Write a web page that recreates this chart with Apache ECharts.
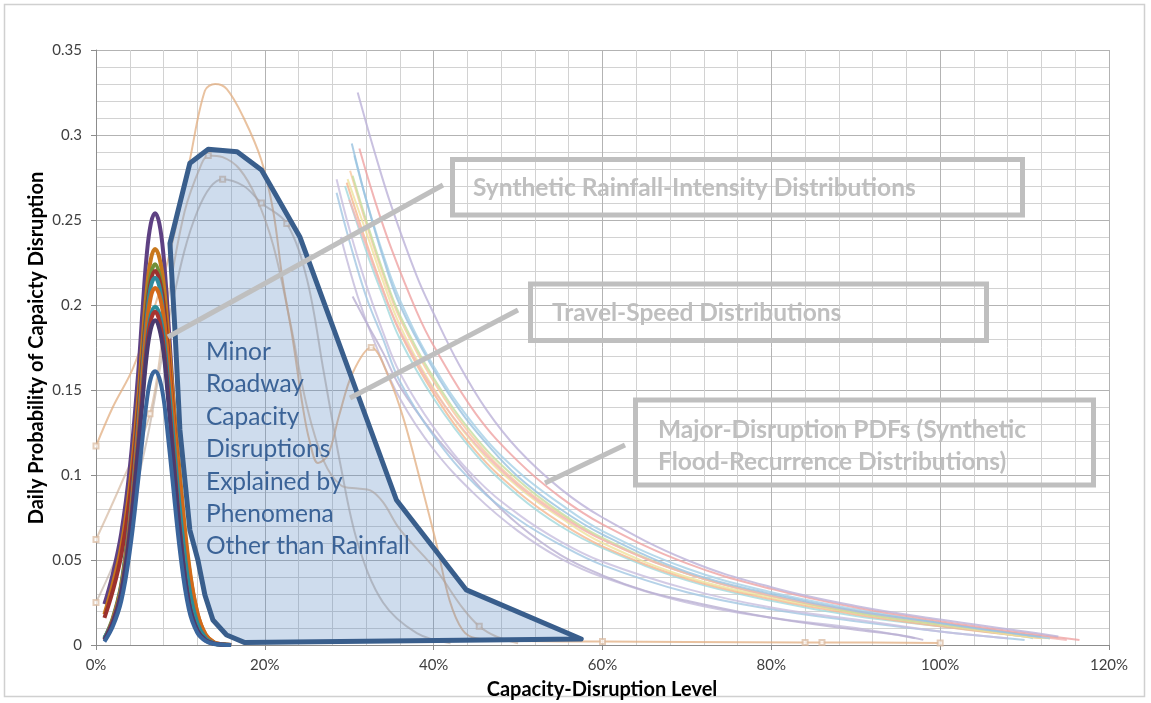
<!DOCTYPE html>
<html>
<head>
<meta charset="utf-8">
<title>Capacity-Disruption Level PDFs</title>
<script src="https://cdn.jsdelivr.net/npm/echarts@6/dist/echarts.min.js"></script>
<style>
  html, body { margin: 0; padding: 0; background: #ffffff; }
  #chart { width: 1151px; height: 703px; }
</style>
</head>
<body>
<div id="chart"></div>
<script>
// ---- Axis setup -------------------------------------------------------------
const xTicks = [0, 20, 40, 60, 80, 100, 120];          // capacity-disruption level, %
const yTicks = [0, 0.05, 0.1, 0.15, 0.2, 0.25, 0.3, 0.35];

// ---- Synthetic rainfall-intensity distributions -------------------------------
const rainX = [1, 2, 3, 4, 5, 5.5, 6, 6.5, 7, 7.5, 8, 8.5, 9, 10, 11, 12, 13, 14, 15, 16];
const rainPurple  = [0.024, 0.042, 0.066, 0.104, 0.160, 0.196, 0.229, 0.248, 0.254, 0.248, 0.229, 0.196, 0.157, 0.084, 0.033, 0.011, 0.0036, 0.001, 0.0003, 0];
const rainOrange  = [0.018, 0.036, 0.058, 0.093, 0.145, 0.178, 0.208, 0.227, 0.233, 0.228, 0.213, 0.186, 0.154, 0.097, 0.048, 0.019, 0.006, 0.0015, 0.0004, 0];
const rainGreen   = [0.004, 0.016, 0.036, 0.076, 0.134, 0.168, 0.199, 0.218, 0.224, 0.218, 0.202, 0.172, 0.139, 0.074, 0.029, 0.010, 0.003, 0.0009, 0.0002, 0];
const rainRed     = [0.016, 0.032, 0.053, 0.086, 0.136, 0.167, 0.196, 0.214, 0.220, 0.215, 0.201, 0.175, 0.145, 0.088, 0.042, 0.016, 0.005, 0.0013, 0.0003, 0];
const rainTeal    = [0.004, 0.015, 0.035, 0.073, 0.130, 0.162, 0.192, 0.211, 0.216, 0.211, 0.194, 0.166, 0.134, 0.071, 0.028, 0.0097, 0.003, 0.0009, 0.0002, 0];
const rainOrange2 = [0.003, 0.015, 0.034, 0.071, 0.126, 0.158, 0.187, 0.205, 0.210, 0.206, 0.193, 0.170, 0.142, 0.090, 0.046, 0.019, 0.006, 0.0015, 0.0004, 0];
const rainTeal2   = [0.004, 0.014, 0.032, 0.068, 0.119, 0.149, 0.177, 0.194, 0.199, 0.195, 0.182, 0.158, 0.131, 0.077, 0.035, 0.013, 0.004, 0.001, 0.0003, 0];
const rainRed2    = [0.003, 0.014, 0.031, 0.067, 0.118, 0.147, 0.174, 0.191, 0.196, 0.191, 0.176, 0.151, 0.122, 0.065, 0.025, 0.0088, 0.0027, 0.0008, 0.0002, 0];
const rainNavy    = [0.003, 0.013, 0.031, 0.065, 0.115, 0.143, 0.170, 0.186, 0.191, 0.186, 0.172, 0.147, 0.118, 0.063, 0.025, 0.0086, 0.0027, 0.0008, 0.0002, 0];
const rainBlue    = [0.002, 0.011, 0.026, 0.055, 0.097, 0.121, 0.143, 0.157, 0.161, 0.157, 0.145, 0.124, 0.100, 0.053, 0.021, 0.0072, 0.0023, 0.0006, 0.0002, 0];

// ---- Travel-speed distributions ([level %, probability]) ---------------------
const speedTan = [[0,0.117],[2,0.14],[4.4,0.163],[7.2,0.203],[9.1,0.238],[11.1,0.285],[12.9,0.326],[14.1,0.33],[15.5,0.327],
  [17.5,0.31],[19.6,0.285],[21,0.255],[22.1,0.215],[23.3,0.18],[24.5,0.14],[25.3,0.12],[26.3,0.107],[27.5,0.112],
  [28.8,0.135],[30.4,0.16],[32.6,0.175],[34.8,0.156],[36.5,0.132],[38.5,0.095],[40.4,0.058],[41.9,0.026],[43.4,0.009],
  [45,0.004],[50,0.0025],[60,0.002],[70,0.0018],[84,0.0015],[86,0.0015],[100,0.0012]];
const speedTaupe = [[0,0.062],[3,0.095],[6.4,0.136],[8.4,0.2],[10.5,0.255],[12.5,0.283],[13.3,0.288],[15,0.287],[17,0.28],
  [19,0.263],[21,0.235],[23,0.19],[25,0.14],[27,0.108],[29,0.094],[31,0.092],[32.5,0.091],[34,0.084],[36,0.068],
  [40.3,0.044],[43.4,0.022],[45.4,0.011],[47.4,0.005],[50,0.001]];
const speedGray = [[0,0.025],[3,0.06],[6,0.12],[9,0.2],[12,0.255],[15,0.274],[17.5,0.27],[19.6,0.26],[22.6,0.248],
  [25,0.215],[27,0.16],[29,0.105],[31,0.06],[34,0.025],[38,0.007],[42,0.001]];
const speedMarkers = [[0,0.117],[0,0.062],[0,0.025],[6.4,0.136],[13.3,0.288],[15,0.274],[19.6,0.26],[22.6,0.248],
  [32.6,0.175],[45.4,0.011],[60,0.002],[84,0.0015],[86,0.0015],[100,0.0012]];

// ---- Major-disruption PDFs (synthetic flood-recurrence distributions) --------
const floodLavTop = [[31,0.325],[33,0.29],[35,0.258],[38,0.217],[40,0.195],[43,0.165],[46.3,0.138],[50,0.115],[55,0.092],[60,0.075],[70,0.05],[80,0.034],[90,0.023],[100,0.015],[110,0.008],[114,0.005]];
const floodPink1  = [[31.2,0.292],[33,0.262],[35,0.233],[38,0.196],[40,0.176],[45,0.136],[50,0.108],[55,0.087],[60,0.071],[70,0.048],[80,0.033],[90,0.022],[100,0.014],[110,0.007],[116.5,0.003]];
const floodBlueX  = [[30.3,0.295],[32,0.262],[34,0.228],[36,0.2],[40,0.162],[43.1,0.138],[46,0.12],[50,0.099],[55,0.08],[60,0.065],[70,0.043],[80,0.03],[90,0.02],[100,0.013],[110,0.006],[112,0.005]];
const floodBlue2  = [[30.6,0.288],[32,0.262],[34,0.23],[36,0.203],[40,0.164],[45,0.128],[50,0.102],[55,0.083],[60,0.067],[70,0.045],[80,0.031],[90,0.021],[100,0.013],[110,0.006],[113,0.004]];
const floodPeach1 = [[30.1,0.279],[32,0.248],[34,0.218],[36,0.192],[40,0.155],[45,0.12],[50,0.095],[55,0.077],[60,0.062],[70,0.042],[80,0.029],[90,0.019],[100,0.012],[110,0.006],[114,0.004]];
const floodGreen1 = [[30.4,0.276],[32,0.25],[34,0.22],[36,0.194],[40,0.157],[45,0.122],[50,0.097],[55,0.078],[60,0.063],[70,0.042],[80,0.029],[90,0.019],[100,0.012],[110,0.006],[113,0.004]];
const floodPeach2 = [[29.7,0.272],[32,0.237],[34,0.209],[36,0.184],[40,0.148],[45,0.114],[50,0.09],[55,0.072],[60,0.058],[70,0.039],[80,0.027],[90,0.018],[100,0.011],[110,0.005],[112,0.004]];
const floodYellow = [[29.8,0.274],[32,0.243],[34,0.214],[36,0.188],[40,0.151],[45,0.117],[50,0.093],[55,0.075],[60,0.06],[70,0.04],[80,0.028],[90,0.019],[100,0.012],[110,0.005],[113,0.004]];
const floodAqua   = [[29.5,0.27],[32,0.232],[34,0.205],[36,0.18],[40,0.145],[45,0.112],[50,0.088],[55,0.07],[60,0.057],[70,0.038],[80,0.026],[90,0.017],[100,0.011],[110,0.005],[111,0.004]];
const floodLav2   = [[28.5,0.274],[30,0.245],[32,0.212],[34,0.184],[36,0.16],[40,0.128],[45,0.098],[50,0.077],[55,0.061],[60,0.049],[70,0.033],[80,0.022],[90,0.015],[100,0.008],[108,0.004]];
const floodBlue3  = [[28.5,0.266],[30,0.238],[32,0.205],[34,0.18],[36,0.155],[40,0.123],[45,0.094],[50,0.074],[55,0.059],[60,0.047],[70,0.031],[80,0.021],[90,0.014],[100,0.008],[110,0.003]];
const floodLavLow1 = [[30.4,0.205],[32,0.19],[34,0.172],[36,0.152],[40,0.124],[43,0.107],[46,0.09],[50,0.071],[55,0.053],[60,0.041],[65,0.032],[70,0.026],[80,0.016],[90,0.009],[95,0.006],[98,0.003]];
const floodLavLow2 = [[29,0.24],[31,0.205],[33,0.178],[36,0.145],[40,0.115],[45,0.088],[50,0.067],[55,0.051],[60,0.04],[70,0.025],[80,0.016],[90,0.01],[97,0.004]];
const floodPink2  = [[30,0.262],[32,0.235],[34,0.208],[36,0.185],[40,0.15],[45,0.118],[50,0.094],[55,0.076],[60,0.062],[70,0.042],[80,0.029],[90,0.02],[100,0.013],[110,0.006],[115,0.003]];

// ---- Envelope of minor roadway capacity disruptions (polygon vertices) -------
const minorX = [8.76, 11.12, 13.29, 16.72, 19.61, 24.14, 35.59, 43.87, 57.48, 17.63, 15.47, 13.85, 12.9, 12.07, 11.12, 9.94, 9.35];
const minorY = [0.2363, 0.2834, 0.2916, 0.2902, 0.2794, 0.2402, 0.0853, 0.0324, 0.0035, 0.0014, 0.0059, 0.0147, 0.0294, 0.05, 0.0676, 0.1265, 0.1853];

const minorLabel = ['Minor', 'Roadway', 'Capacity', 'Disruptions', 'Explained by', 'Phenomena', 'Other than Rainfall'];

// ---- Build series --------------------------------------------------------------
const zip = (xs, ys) => xs.map((x, i) => [x, ys[i]]);

const floodSeries = [
  [floodLavLow2, '#c3badb'], [floodLavLow1, '#b9afd2'], [floodBlue3, '#a2c7e2'], [floodLav2, '#c8bedf'],
  [floodAqua, '#a3d8dc'], [floodPeach2, '#f6b68e'], [floodYellow, '#eee29c'], [floodPeach1, '#f8c7a0'],
  [floodGreen1, '#c5df9e'], [floodPink2, '#f2b5b5'], [floodBlue2, '#a6cfe6'], [floodBlueX, '#98c2e0'],
  [floodPink1, '#efa3a3'], [floodLavTop, '#bcb1d8']
].map(([pts, color]) => ({
  type: 'line', data: pts, smooth: 0.4, symbol: 'none', silent: true,
  lineStyle: { color, width: 2, opacity: 0.8 }, z: 2
}));

const speedSeries = [
  [speedGray, '#b9a99d', 0.6], [speedTaupe, '#cdab90', 0.6], [speedTan, '#e2ad80', 0.75]
].map(([pts, color, op]) => ({
  type: 'line', data: pts, smooth: 0.35, symbol: 'none', silent: true,
  lineStyle: { color, width: 2, opacity: op }, z: 3
}));

const rainSeries = [
  [rainPurple, '#5e4183'], [rainOrange, '#c8781c'], [rainGreen, '#70903a'], [rainRed, '#9c312d'],
  [rainTeal, '#2f8a9c'], [rainOrange2, '#d2691a'], [rainTeal2, '#2b8c9a'], [rainRed2, '#a83430'],
  [rainNavy, '#4a3a6e'], [rainBlue, '#3a659c']
].map(([ys, color]) => ({
  type: 'line', data: zip(rainX, ys), smooth: 0.4, symbol: 'none', silent: true,
  lineStyle: { color, width: 4 }, z: 4
}));

const chart = echarts.init(document.getElementById('chart'), null, { renderer: 'canvas' });

const option = {
  animation: false,
  backgroundColor: '#ffffff',
  grid: { left: 96, right: 42, top: 50, bottom: 58, containLabel: false },
  xAxis: {
    type: 'value', min: xTicks[0], max: xTicks[xTicks.length - 1], interval: 20,
    axisLine: { show: true, lineStyle: { color: '#8c8c8c', width: 1 } },
    axisTick: { show: true, length: 5, lineStyle: { color: '#8c8c8c' } },
    axisLabel: { formatter: '{value}%', color: '#404040', fontSize: 15, margin: 13, fontFamily: 'Lato, sans-serif' },
    splitLine: { show: true, lineStyle: { color: '#b3b3b3', width: 1 } },
    minorTick: { show: false, splitNumber: 5 },
    minorSplitLine: { show: true, lineStyle: { color: '#d2d2d2', width: 1 } }
  },
  yAxis: {
    type: 'value', min: yTicks[0], max: yTicks[yTicks.length - 1], interval: 0.05,
    axisLine: { show: true, lineStyle: { color: '#8c8c8c', width: 1 } },
    axisTick: { show: true, length: 5, lineStyle: { color: '#8c8c8c' } },
    axisLabel: {
      color: '#404040', fontSize: 15, margin: 14, fontFamily: 'Lato, sans-serif',
      formatter: v => String(+v.toFixed(2))
    },
    splitLine: { show: true, lineStyle: { color: '#b3b3b3', width: 1 } },
    minorTick: { show: false, splitNumber: 5 },
    minorSplitLine: { show: true, lineStyle: { color: '#d2d2d2', width: 1 } }
  },
  series: [
    ...floodSeries,
    ...speedSeries,
    {
      type: 'scatter', data: speedMarkers, symbol: 'emptyRect', symbolSize: 5, silent: true,
      itemStyle: { color: '#d9b89c', borderColor: '#d2ae90', borderWidth: 1, opacity: 0.7 }, z: 3
    },
    ...rainSeries,
    {
      type: 'custom', coordinateSystem: 'cartesian2d', silent: true, z: 5,
      data: [[minorX[0], minorY[0]]],
      renderItem: (params, api) => ({
        type: 'polygon',
        shape: { points: minorX.map((x, i) => api.coord([x, minorY[i]])) },
        style: { fill: 'rgba(79,129,189,0.28)', stroke: '#395e8c', lineWidth: 5, lineJoin: 'round' }
      })
    }
  ],
  graphic: [
    // outer chart frame
    { type: 'rect', shape: { x: 4.5, y: 4.5, width: 1140, height: 692 }, style: { fill: 'none', stroke: '#d0d0d0', lineWidth: 1.5 }, z: 0, silent: true },
    // axis titles
    { type: 'text', x: 602, y: 690, style: { text: 'Capacity-Disruption Level', font: 'bold 20px Lato, sans-serif', fill: '#000', align: 'center', verticalAlign: 'middle' }, z: 10 },
    { type: 'text', x: 37, y: 348, rotation: Math.PI / 2, style: { text: 'Daily Probability of Capaicty Disruption', font: 'bold 20px Lato, sans-serif', fill: '#000', align: 'center', verticalAlign: 'middle' }, z: 10 },
    // envelope label
    ...minorLabel.map((t, i) => ({
      type: 'text', x: 206, y: 352 + i * 32.4,
      style: { text: t, font: '24.5px Lato, sans-serif', fill: '#3b6397', align: 'left', verticalAlign: 'middle' }, z: 10
    })),
    // callout leaders
    { type: 'line', shape: { x1: 443, y1: 185, x2: 168, y2: 337 }, style: { stroke: '#bfbfbf', lineWidth: 5 }, z: 9 },
    { type: 'line', shape: { x1: 518, y1: 310, x2: 350, y2: 398 }, style: { stroke: '#bfbfbf', lineWidth: 5 }, z: 9 },
    { type: 'line', shape: { x1: 625, y1: 445, x2: 545, y2: 483 }, style: { stroke: '#bfbfbf', lineWidth: 5 }, z: 9 },
    // callout boxes
    { type: 'rect', shape: { x: 452.5, y: 159.5, width: 570, height: 55.5 }, style: { fill: 'none', stroke: '#bfbfbf', lineWidth: 5 }, z: 9 },
    { type: 'rect', shape: { x: 530.5, y: 284, width: 456, height: 56.5 }, style: { fill: 'none', stroke: '#bfbfbf', lineWidth: 5 }, z: 9 },
    { type: 'rect', shape: { x: 635.5, y: 400, width: 458, height: 85 }, style: { fill: 'none', stroke: '#bfbfbf', lineWidth: 5 }, z: 9 },
    { type: 'text', x: 473, y: 188, style: { text: 'Synthetic Rainfall-Intensity Distributions', font: 'bold 24.5px Lato, sans-serif', fill: '#bfbfbf', align: 'left', verticalAlign: 'middle' }, z: 10 },
    { type: 'text', x: 552, y: 313, style: { text: 'Travel-Speed Distributions', font: 'bold 24.5px Lato, sans-serif', fill: '#bfbfbf', align: 'left', verticalAlign: 'middle' }, z: 10 },
    { type: 'text', x: 658, y: 430, style: { text: 'Major-Disruption PDFs (Synthetic', font: 'bold 24.5px Lato, sans-serif', fill: '#bfbfbf', align: 'left', verticalAlign: 'middle' }, z: 10 },
    { type: 'text', x: 658, y: 462, style: { text: 'Flood-Recurrence Distributions)', font: 'bold 24.5px Lato, sans-serif', fill: '#bfbfbf', align: 'left', verticalAlign: 'middle' }, z: 10 }
  ]
};

chart.setOption(option);
</script>
</body>
</html>
